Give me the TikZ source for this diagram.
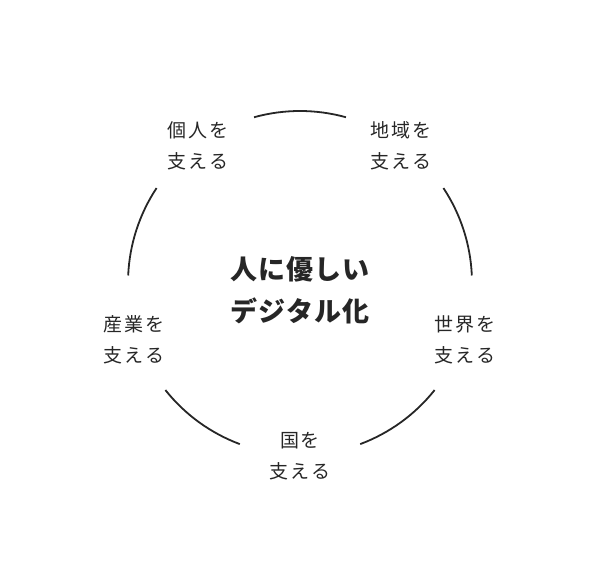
\documentclass[tikz,border=0pt]{standalone}
\usetikzlibrary{calc}
\usepackage{fontspec}
\newfontfamily\cjk[LetterSpace=10]{Noto Sans CJK JP}
\newfontfamily\cjkc[LetterSpace=4]{Noto Sans CJK JP}
\begin{document}
\begin{tikzpicture}[x=1pt,y=1pt,
  arcline/.style={line width=1.8pt,draw=black!85},
  lbl/.style={font=\cjk\fontsize{19}{31}\selectfont,align=center,text=black!85},
  ctr/.style={font=\cjkc\bfseries\fontsize{27}{42}\selectfont,align=center,text=black!85}]
\useasboundingbox (0,0) rectangle (600,588);
\coordinate (c) at (300,305);
\foreach \a in {2.5,74.5,146.5,218.5,290.5}{
  \draw[arcline] ($(c)+(\a:172pt)$) arc[start angle=\a,end angle=\a+31,radius=172pt];
}
\node[ctr] (center) at (300,298) {人に優しい\\デジタル化};
\node[lbl] (l1) at (198,442) {個人を\\支える};
\node[lbl] (l2) at (401,442) {地域を\\支える};
\node[lbl] (l3) at (134,248) {産業を\\支える};
\node[lbl] (l4) at (465,248) {世界を\\支える};
\node[lbl] (l5) at (300,132) {国を\\支える};
\end{tikzpicture}
\end{document}
